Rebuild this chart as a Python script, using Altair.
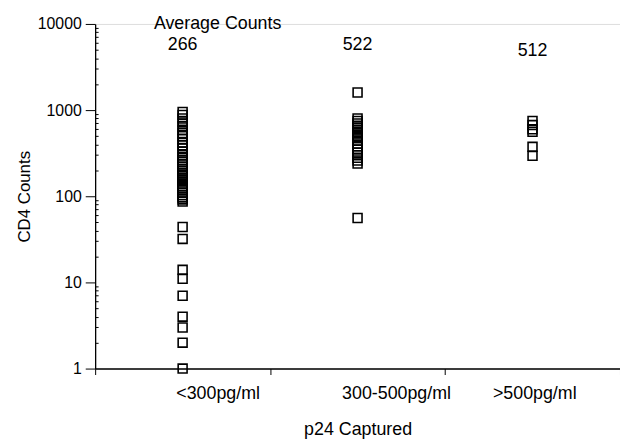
import altair as alt
import pandas as pd

categories = ["<300pg/ml", "300-500pg/ml", ">500pg/ml"]

group_low = [950, 880, 800, 720, 650, 590, 540, 500, 460, 420, 390, 360, 330,
             300, 280, 265, 250, 235, 220, 205, 195, 185, 178, 170, 162, 155,
             148, 140, 132, 125, 118, 110, 103, 97, 92, 87,
             44, 32, 14, 11, 7, 4, 3, 2, 1]
group_mid = [1600, 800, 750, 700, 660, 620, 580, 540, 500, 470, 440, 410, 380,
             350, 320, 300, 280, 260, 240, 56]
group_high = [750, 670, 600, 560, 375, 295]

averages = [266, 522, 512]
avg_title = "Average Counts"

y_ticks = [1, 10, 100, 1000, 10000]
y_minor = [k * 10 ** e for e in range(4) for k in range(2, 10)]
x_ticks = [0, 1, 2, 3]
label_pos = [0.70, 1.72, 2.51]

FONT = "Liberation Sans"

rows = []
for i, vals in enumerate([group_low, group_mid, group_high]):
    for v in vals:
        rows.append({"x": i + 0.5, "cd4": v, "group": categories[i]})
df = pd.DataFrame(rows)

avg_df = pd.DataFrame({
    "x": [i + 0.5 for i in range(len(averages))],
    "txt": [str(a) for a in averages],
    "py": [26, 26, 32],
})
title_df = pd.DataFrame({"x": [0.70], "txt": [avg_title], "py": [5]})
lab_df = pd.DataFrame({"x": label_pos, "txt": categories})
minor_df = pd.DataFrame({"m": y_minor})

xscale = alt.Scale(domain=[0, 3], nice=False, zero=False)
yscale = alt.Scale(type="log", domain=[1, 10000], nice=False)

points = alt.Chart(df).mark_point(
    shape="square", filled=False, color="black", strokeWidth=1.6,
    size=81, opacity=1
).encode(
    x=alt.X("x:Q", scale=xscale, axis=alt.Axis(
        values=x_ticks, labels=False, tickSize=6, tickColor="black",
        domainColor="black", domainWidth=1.5, grid=False, title=None,
        orient="bottom")),
    y=alt.Y("cd4:Q", scale=yscale, axis=alt.Axis(
        values=y_ticks, format="d", tickSize=10, tickColor="black",
        domainColor="black", domainWidth=1.3, grid=False,
        labelFont=FONT, labelFontSize=16, labelColor="black", labelPadding=4,
        title="CD4 Counts", titleFont=FONT, titleFontSize=17,
        titleFontWeight="normal", titleColor="black", titlePadding=4)),
)

labels = alt.Chart(lab_df).mark_point(opacity=0).encode(
    x=alt.X("x:Q", scale=xscale, axis=alt.Axis(
        values=label_pos, labelExpr="['<300pg/ml','300-500pg/ml','>500pg/ml'][indexof([0.7,1.72,2.51], datum.value)]",
        tickSize=0, domain=False, grid=False, orient="bottom",
        labelFont=FONT, labelFontSize=18, labelColor="black", labelPadding=16,
        labelOverlap=False,
        title="p24 Captured", titleFont=FONT, titleFontSize=18,
        titleFontWeight="normal", titleColor="black", titlePadding=19)),
)

minor = alt.Chart(minor_df).mark_point(opacity=0).encode(
    y=alt.Y("m:Q", scale=yscale, axis=alt.Axis(
        values=y_minor, labels=False, tickSize=3, tickColor="black",
        domain=False, grid=False, title=None, orient="left", offset=-3)),
)

avg_text = alt.Chart(avg_df).mark_text(
    font=FONT, fontSize=18, color="black", baseline="alphabetic", align="center"
).encode(
    x=alt.X("x:Q", scale=xscale, axis=None),
    y=alt.Y("py:Q", scale=None, axis=None),
    text="txt:N",
)
avg_head = alt.Chart(title_df).mark_text(
    font=FONT, fontSize=18, color="black", baseline="alphabetic", align="center"
).encode(
    x=alt.X("x:Q", scale=xscale, axis=None),
    y=alt.Y("py:Q", scale=None, axis=None),
    text="txt:N",
)

chart = alt.layer(points, labels, minor, avg_text, avg_head).resolve_axis(
    x="independent", y="independent"
).properties(
    width=530, height=348,
    padding={"left": 88, "top": 14, "right": 0, "bottom": 69},
    autosize=alt.AutoSizeParams(type="none"),
).configure_view(stroke=None).configure(background="white")

chart.save("out.html", embed_options={"renderer": "svg", "actions": False})
